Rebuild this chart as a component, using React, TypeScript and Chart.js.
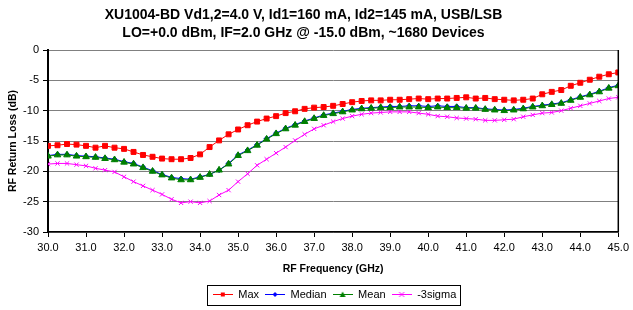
import React, { useEffect, useRef } from "react";
import { Chart, registerables } from "chart.js";

Chart.register(...registerables);

// ---------- data ----------
const titleLines = [
  "XU1004-BD Vd1,2=4.0 V, Id1=160 mA, Id2=145 mA, USB/LSB",
  "LO=+0.0 dBm, IF=2.0 GHz @ -15.0 dBm, ~1680 Devices",
];
const xAxisTitle = "RF Frequency (GHz)";
const yAxisTitle = "RF Return Loss (dB)";
const seriesNames = ["Max", "Median", "Mean", "-3sigma"];

const freqGHz = [
  30.0, 30.25, 30.5, 30.75, 31.0, 31.25, 31.5, 31.75, 32.0, 32.25, 32.5, 32.75,
  33.0, 33.25, 33.5, 33.75, 34.0, 34.25, 34.5, 34.75, 35.0, 35.25, 35.5, 35.75,
  36.0, 36.25, 36.5, 36.75, 37.0, 37.25, 37.5, 37.75, 38.0, 38.25, 38.5, 38.75,
  39.0, 39.25, 39.5, 39.75, 40.0, 40.25, 40.5, 40.75, 41.0, 41.25, 41.5, 41.75,
  42.0, 42.25, 42.5, 42.75, 43.0, 43.25, 43.5, 43.75, 44.0, 44.25, 44.5, 44.75,
  45.0,
];

const maxDb = [
  -15.8, -15.7, -15.5, -15.6, -15.8, -16.1, -15.8, -16.1, -16.3, -16.8, -17.3,
  -17.6, -17.9, -18.0, -18.0, -17.8, -17.2, -16.0, -14.9, -13.9, -13.1,
  -12.4, -11.8, -11.3, -10.9, -10.4, -10.1, -9.7, -9.5, -9.4, -9.2, -8.9, -8.6,
  -8.4, -8.3, -8.3, -8.2, -8.2, -8.1, -8.0, -8.1,
  -8.0, -8.0, -7.9, -7.8, -8.0, -7.9, -8.1, -8.2, -8.3, -8.2, -8.0, -7.3, -6.9,
  -6.6, -5.9, -5.4, -4.9, -4.4, -4.0, -3.7,
];

const medianDb = [
  -17.4, -17.2, -17.2, -17.4, -17.5, -17.6, -17.8, -18.0, -18.4, -18.7, -19.3,
  -19.9, -20.5, -21.0, -21.2, -21.3, -20.9, -20.5, -19.8, -18.7, -17.3,
  -16.5, -15.6, -14.6, -13.7, -12.9, -12.3, -11.7, -11.2, -10.7, -10.4, -10.1,
  -9.8, -9.6, -9.5, -9.4, -9.3, -9.3, -9.2, -9.2, -9.3,
  -9.2, -9.3, -9.3, -9.5, -9.5, -9.7, -9.8, -9.9, -9.8, -9.6, -9.3, -9.1, -8.9,
  -8.7, -8.2, -7.7, -7.3, -6.8, -6.2, -5.8,
];

const meanDb = [
  -17.5, -17.3, -17.3, -17.5, -17.6, -17.7, -17.9, -18.1, -18.5, -18.8, -19.4,
  -20.0, -20.6, -21.1, -21.4, -21.4, -21.0, -20.5, -19.8, -18.8, -17.4,
  -16.6, -15.7, -14.7, -13.8, -13.0, -12.4, -11.8, -11.3, -10.8, -10.5, -10.2,
  -9.9, -9.7, -9.6, -9.5, -9.5, -9.4, -9.4, -9.4, -9.5,
  -9.4, -9.5, -9.5, -9.6, -9.6, -9.8, -9.9, -10.0, -9.9, -9.7, -9.4, -9.2, -9.0,
  -8.8, -8.3, -7.8, -7.4, -6.9, -6.3, -5.9,
];

const minus3SigmaDb = [
  -18.8, -18.7, -18.7, -18.9, -19.1, -19.5, -19.8, -20.1, -20.9, -21.7, -22.4,
  -23.1, -23.8, -24.6, -25.2, -25.0, -25.2, -24.9, -23.9, -23.1, -21.7,
  -20.4, -19.0, -18.0, -17.0, -16.0, -14.9, -13.9, -13.0, -12.4, -11.8, -11.3,
  -10.9, -10.6, -10.4, -10.3, -10.2, -10.2, -10.2, -10.4, -10.6,
  -10.9, -11.0, -11.2, -11.3, -11.4, -11.6, -11.6, -11.5, -11.4, -11.0, -10.7,
  -10.4, -10.3, -10.0, -9.6, -9.2, -8.8, -8.4, -8.0, -7.8,
];

const xMin = 30;
const xMax = 45;
const xStep = 1;
const yMin = -30;
const yMax = 0;
const yStep = 5;

// ---------- styles ----------
const FONT = "'Liberation Sans', Arial, Helvetica, sans-serif";
const colors = ["#FF0000", "#0000FF", "#008000", "#FF00FF"];
const pointStyles = ["rect", "rectRot", "triangle", "crossRot"];
const pointRadii = [3.5, 2.5, 3.8, 3];
const drawOrder = [3, 2, 0, 1];
const LEGEND_SHIFT = 25;
const TITLE_SHIFT = -6;

function makeIcon(color: string, style: string): HTMLCanvasElement {
  const c = document.createElement("canvas");
  c.width = 20;
  c.height = 9;
  const ctx = c.getContext("2d")!;
  ctx.strokeStyle = color;
  ctx.fillStyle = color;
  ctx.lineWidth = 1;
  ctx.beginPath();
  ctx.moveTo(0, 4.5);
  ctx.lineTo(20, 4.5);
  ctx.stroke();
  const cx = 10;
  const cy = 4.5;
  ctx.beginPath();
  if (style === "rect") {
    ctx.fillRect(cx - 2, cy - 2, 4, 4);
  } else if (style === "rectRot") {
    ctx.moveTo(cx, cy - 2.5);
    ctx.lineTo(cx + 2.5, cy);
    ctx.lineTo(cx, cy + 2.5);
    ctx.lineTo(cx - 2.5, cy);
    ctx.closePath();
    ctx.fill();
  } else if (style === "triangle") {
    ctx.moveTo(cx, cy - 3);
    ctx.lineTo(cx + 3, cy + 2.5);
    ctx.lineTo(cx - 3, cy + 2.5);
    ctx.closePath();
    ctx.fill();
  } else {
    ctx.moveTo(cx - 2.5, cy - 2.5);
    ctx.lineTo(cx + 2.5, cy + 2.5);
    ctx.moveTo(cx + 2.5, cy - 2.5);
    ctx.lineTo(cx - 2.5, cy + 2.5);
    ctx.stroke();
  }
  return c;
}

const framePlugin = {
  id: "frameAndLegendBox",
  afterUpdate(chart: any) {
    const lg = chart.legend;
    if (lg) {
      lg.left += LEGEND_SHIFT;
      lg.right += LEGEND_SHIFT;
    }
    const tb = chart.titleBlock;
    if (tb) {
      tb.left += TITLE_SHIFT;
      tb.right += TITLE_SHIFT;
    }
  },
  afterDraw(chart: any) {
    const ctx = chart.ctx;
    const area = chart.chartArea;
    ctx.save();
    ctx.strokeStyle = "#000";
    ctx.lineWidth = 1.5;
    ctx.beginPath();
    ctx.moveTo(area.right, area.top);
    ctx.lineTo(area.right, area.bottom);
    ctx.stroke();
    const lg = chart.legend;
    if (lg && lg.legendHitBoxes && lg.legendHitBoxes.length) {
      const hbs = lg.legendHitBoxes;
      let l = Infinity;
      let r = -Infinity;
      let t = Infinity;
      let b = -Infinity;
      for (const h of hbs) {
        l = Math.min(l, h.left);
        r = Math.max(r, h.left + h.width);
        t = Math.min(t, h.top);
        b = Math.max(b, h.top + h.height);
      }
      l += LEGEND_SHIFT;
      r += LEGEND_SHIFT;
      const cy = (t + b) / 2;
      ctx.lineWidth = 1;
      ctx.strokeStyle = "#000";
      ctx.strokeRect(Math.round(l - 6) + 0.5, Math.round(cy - 10) + 0.5, Math.round(r - l + 10), 20);
    }
    ctx.restore();
  },
};

export default function App() {
  const canvasRef = useRef<HTMLCanvasElement | null>(null);

  useEffect(() => {
    document.body.style.margin = "0";
    const canvas = canvasRef.current;
    if (!canvas) return;

    const seriesValues = [maxDb, medianDb, meanDb, minus3SigmaDb];
    const icons = seriesNames.map((_, i) => makeIcon(colors[i], pointStyles[i]));

    const datasets = seriesNames.map((name, i) => ({
      label: name,
      data: freqGHz.map((f, k) => ({ x: f, y: seriesValues[i][k] })),
      order: drawOrder[i],
      borderColor: colors[i],
      backgroundColor: colors[i],
      borderWidth: 1,
      pointStyle: pointStyles[i] as any,
      pointRadius: pointRadii[i],
      pointBorderWidth: 1,
      pointBorderColor: colors[i],
      pointBackgroundColor: colors[i],
      tension: 0,
      fill: false,
    }));

    const chart = new Chart(canvas, {
      type: "line",
      data: { datasets },
      options: {
        animation: false,
        responsive: false,
        events: [],
        layout: { padding: { left: 0, right: 14, top: 0, bottom: 0 } },
        plugins: {
          title: {
            display: true,
            text: titleLines,
            color: "#000",
            font: { family: FONT, size: 14, weight: "bold", lineHeight: 1.286 },
            padding: { top: 6, bottom: 8 },
          },
          legend: {
            display: true,
            position: "bottom",
            labels: {
              color: "#000",
              font: { family: FONT, size: 11 },
              usePointStyle: true,
              pointStyleWidth: 20,
              padding: 6,
              generateLabels: (ch: any) => {
                const base = Chart.defaults.plugins.legend.labels.generateLabels(ch);
                return base
                  .sort((a: any, b: any) => a.datasetIndex - b.datasetIndex)
                  .map((item: any) => ({ ...item, pointStyle: icons[item.datasetIndex], fontColor: "#000" }));
              },
            },
          },
          tooltip: { enabled: false },
        },
        scales: {
          x: {
            type: "linear",
            min: xMin,
            max: xMax,
            afterFit: (scale: any) => {
              scale.height = 51;
            },
            ticks: {
              stepSize: xStep,
              autoSkip: false,
              maxRotation: 0,
              padding: 4,
              color: "#000",
              font: { family: FONT, size: 11 },
              callback: (v: any) => Number(v).toFixed(1),
            },
            grid: {
              drawOnChartArea: false,
              drawTicks: true,
              tickLength: 5,
              tickColor: "#000",
              tickWidth: 1,
            },
            border: { display: true, color: "#000", width: 1.5 },
            title: {
              display: true,
              text: xAxisTitle,
              color: "#000",
              font: { family: FONT, size: 10.5, weight: "bold" },
              padding: { top: 0, bottom: 8 },
            },
          },
          y: {
            type: "linear",
            min: yMin,
            max: yMax,
            afterFit: (scale: any) => {
              scale.width = 48;
            },
            ticks: {
              stepSize: yStep,
              padding: 4,
              color: "#000",
              font: { family: FONT, size: 11 },
            },
            grid: {
              color: "#808080",
              lineWidth: 1,
              drawTicks: true,
              tickLength: 5,
              tickColor: "#000",
            },
            border: { display: true, color: "#000", width: 2 },
            title: {
              display: true,
              text: yAxisTitle,
              color: "#000",
              font: { family: FONT, size: 10.5, weight: "bold" },
              padding: { top: 7, bottom: 0 },
            },
          },
        },
      },
      plugins: [framePlugin],
    });

    return () => chart.destroy();
  }, []);

  return (
    <div style={{ width: 633, height: 310 }}>
      <canvas ref={canvasRef} width={633} height={310} style={{ display: "block" }} />
    </div>
  );
}
